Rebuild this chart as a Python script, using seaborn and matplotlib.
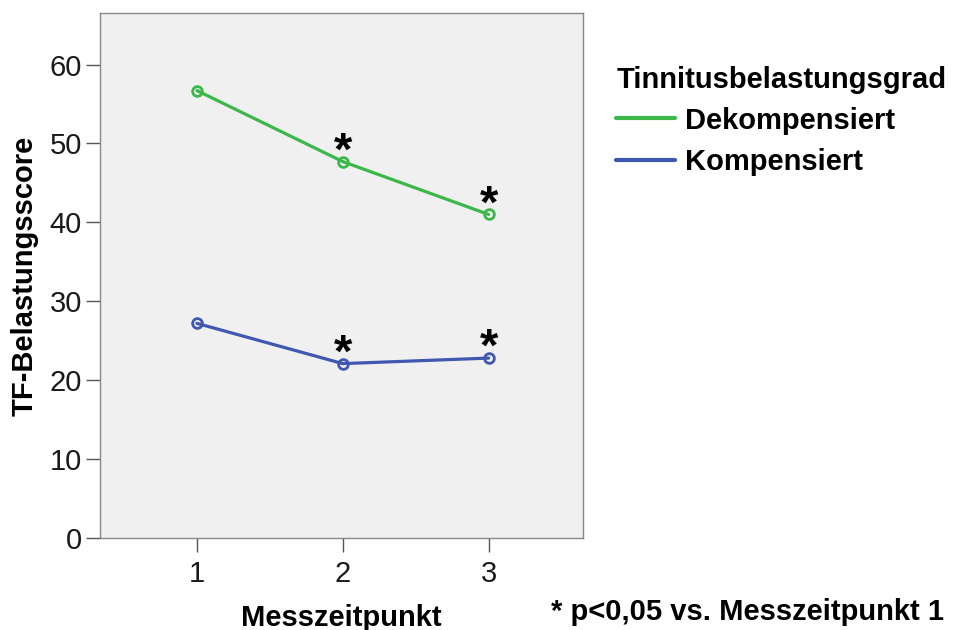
import matplotlib
matplotlib.use("Agg")
import matplotlib.pyplot as plt
import seaborn as sns
import pandas as pd

# Mean TF scores per measurement time and severity group
zeitpunkte = [1, 2, 3]
dekompensiert = [56.7, 47.7, 41.0]
kompensiert = [27.2, 22.1, 22.8]
gruppen = ["Dekompensiert", "Kompensiert"]
signifikant = [False, True, True]

df = pd.DataFrame({
    "Messzeitpunkt": zeitpunkte * 2,
    "Score": dekompensiert + kompensiert,
    "Gruppe": [gruppen[0]] * 3 + [gruppen[1]] * 3,
})

sns.set_theme(style="white")
plt.rcParams["font.family"] = ["Liberation Sans", "DejaVu Sans"]
plt.rcParams["text.color"] = "black"
plt.rcParams["axes.labelcolor"] = "black"

palette = {"Dekompensiert": "#3cb84a", "Kompensiert": "#4058b0"}

fig = plt.figure(figsize=(9.54, 6.30), dpi=100)
ax = fig.add_axes([0.1048, 0.146, 0.506, 0.833])
ax.set_facecolor("#f0f0f0")

sns.lineplot(data=df, x="Messzeitpunkt", y="Score", hue="Gruppe",
             palette=palette, marker="o", markersize=7,
             markerfacecolor="none", markeredgewidth=2, linewidth=2.3,
             ax=ax, legend=False)
# open circle markers in each series colour
for line, g in zip(ax.get_lines(), gruppen):
    line.set_markeredgecolor(palette[g])

# significance asterisks
for serie in (dekompensiert, kompensiert):
    for x, y, s in zip(zeitpunkte, serie, signifikant):
        if s:
            ax.annotate("*", (x, y), xytext=(0, -2), textcoords="offset points",
                        ha="center", va="baseline", fontsize=34,
                        fontweight="bold", color="black")

ax.set_xlim(0.335, 3.645)
ax.set_ylim(0, 66.5)
ax.set_xticks(zeitpunkte)
ax.set_yticks([0, 10, 20, 30, 40, 50, 60])
ax.tick_params(axis="both", bottom=True, left=True, direction="out",
               length=10, width=1, color="#555555", labelsize=21,
               labelcolor="#1a1a1a", pad=3)
ax.tick_params(axis="x", pad=6)
for sp in ax.spines.values():
    sp.set_color("#888888")
    sp.set_linewidth(1)

ax.set_xlabel("Messzeitpunkt", fontsize=21, fontweight="bold", labelpad=11)
ax.set_ylabel("TF-Belastungsscore", fontsize=21, fontweight="bold", labelpad=8)

handles = [plt.Line2D([], [], color=palette[g], linewidth=3) for g in gruppen]
leg = fig.legend(handles, gruppen, title="Tinnitusbelastungsgrad",
                 loc="upper left", bbox_to_anchor=(0.646, 0.895),
                 frameon=False, prop={"size": 21, "weight": "bold"},
                 title_fontproperties={"size": 21, "weight": "bold"},
                 handlelength=2.0, handletextpad=0.35, labelspacing=0.45,
                 borderaxespad=0, borderpad=0)
leg._legend_box.align = "left"
leg._legend_box.sep = 9

fig.text(0.99, 0.028, "* p<0,05 vs. Messzeitpunkt 1", ha="right", va="center",
         fontsize=21, fontweight="bold")

fig.savefig("out.png", dpi=100, facecolor="white")
